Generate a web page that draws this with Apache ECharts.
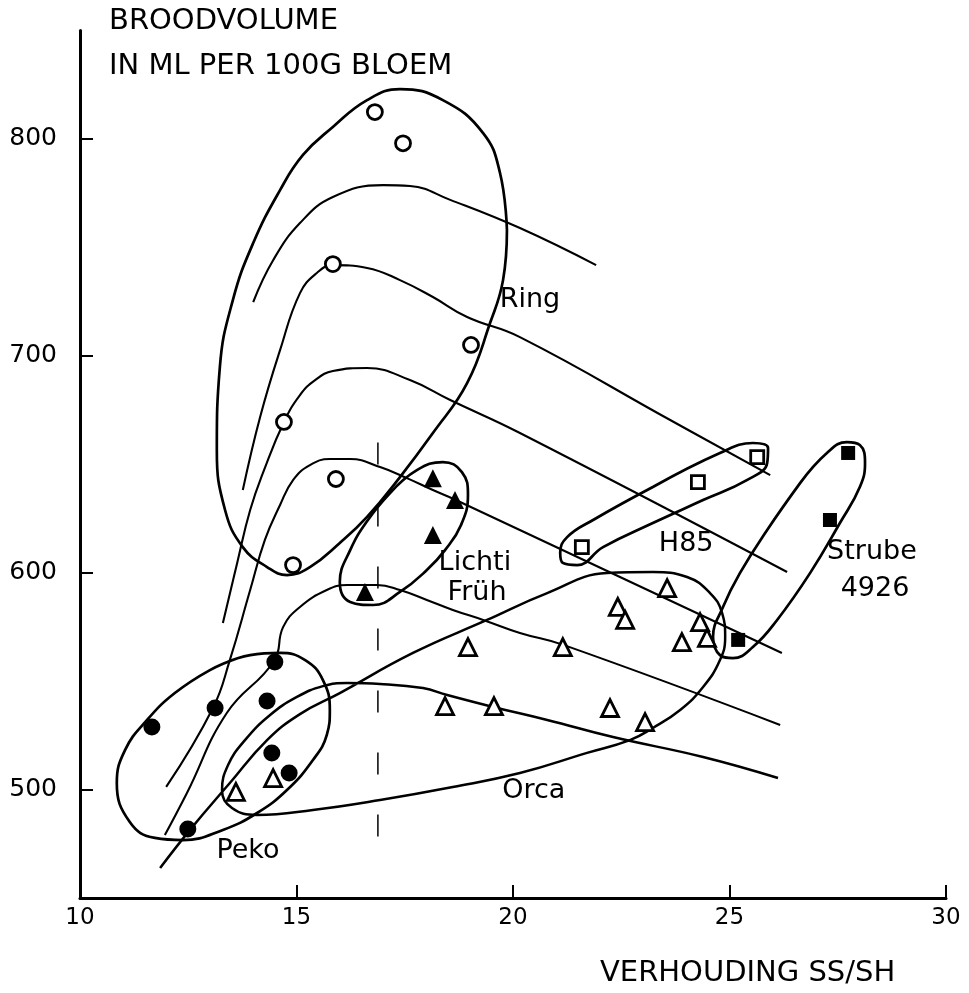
<!DOCTYPE html>
<html>
<head>
<meta charset="utf-8">
<script src="https://cdn.jsdelivr.net/npm/echarts@6/dist/echarts.min.js"></script>
<style>
html,body{margin:0;padding:0;background:#fff;}
#chart{width:969px;height:993px;}
</style>
</head>
<body>
<div id="chart"></div>
<script>
// ---- tick labels ----
const xTicks = [10, 15, 20, 25, 30];
const yTicks = [500, 600, 700, 800];

// ---- data points (x = SS/SH ratio, y = bread volume ml/100 g flour) ----
const ringPts   = [[16.81,812.4],[17.46,798],[15.84,742.3],[19.03,705],[14.71,669.5],[15.91,643.2],[14.92,603.5]];
const pekoPts   = [[11.66,528.8],[13.12,537.6],[14.50,558.8],[14.32,540.8],[14.43,516.9],[14.83,507.6],[12.49,481.8]];
const lichtiPts = [[18.15,643.6],[18.66,633.5],[18.15,617.4],[16.58,591.1]];
const h85Pts    = [[21.59,611.8],[24.27,641.8],[25.64,653.3]];
const strubePts = [[27.74,655.2],[27.32,624.3],[25.20,569.0]];
const orcaPts   = [[13.60,498.9],[14.46,505.3],[23.56,592.9],[22.42,584.2],[22.59,578.2],[24.32,577.2],
                   [23.90,568.0],[24.48,569.9],[18.96,565.7],[21.15,565.7],[18.43,538.5],[19.56,538.5],
                   [22.24,537.6],[23.05,531.1]];

// ---- trend curves ----
const curve1 = [[14.00,724.8],[14.46,744.1],[15.08,761.2],[15.84,773.2],[17.00,778.7],[17.62,778.3],[18.55,771.9],[20.16,758.9],[21.92,741.8]];
const curve2 = [[13.76,638.1],[14.16,671.8],[14.62,702.6],[15.08,728.9],[15.47,738.2],[15.84,741.8],[16.63,740.5],[17.39,734.9],[18.15,727.1],[18.94,717.9],[20.16,708.6],[23.63,670.4],[25.94,645.0]];
const curve3 = [[13.30,576.8],[13.63,604.5],[13.93,628.9],[14.25,647.3],[14.71,669.5],[15.08,681.9],[15.43,688.8],[15.84,693.0],[16.63,694.4],[17.62,688.8],[18.55,679.6],[20.16,664.4],[26.33,600.3]];
const curve4 = [[11.99,501.2],[13.07,537.6],[13.46,559.7],[13.93,592.0],[14.27,615.1],[14.62,631.2],[14.92,642.7],[15.31,649.6],[15.77,652.4],[16.24,652.4],[16.93,648.7],[17.55,643.6],[18.15,638.1],[18.68,633.5],[26.21,563.0]];
const curve5 = [[11.96,479.0],[12.47,498.4],[13.39,535.3],[14.48,559.3],[14.69,574.9],[15.08,584.2],[15.70,592.0],[16.17,594.3],[16.86,594.3],[17.39,592.0],[18.01,587.4],[18.61,582.8],[19.31,578.2],[20.16,572.2],[21.18,566.6],[26.17,529.8]];
// Orca outline, continuing into the lowest trend curve
const orcaLine = [[11.85,463.8],[12.54,481.4],[13.46,503.0],[14.32,522.8],[15.08,534.8],[16.00,544.5],[17.69,563.0],[19.40,578.2],[20.79,590.6],[22.17,599.8],[23.23,600.3],[24.02,598.0],[24.55,590.6],[24.83,581.4],[24.90,570.3],[24.78,559.7],[24.39,547.3],[23.86,536.7],[23.23,528.4],[22.70,522.8],[21.71,516.9],[20.16,507.6],[18.61,501.2],[16.93,495.2],[15.38,490.6],[14.09,488.3],[13.51,491.5],[13.28,499.8],[13.42,511.3],[13.81,522.8],[14.39,534.4],[15.01,542.7],[15.61,547.7],[16.17,549.1],[16.93,548.7],[17.92,546.8],[18.48,543.6],[19.54,538.1],[20.79,532.1],[22.31,524.2],[24.39,515.0],[26.12,505.3]];

// ---- group outlines ----
const ringLoop = [[19.86,758.0],[19.77,734.9],[19.47,715.1],[18.94,687.4],[18.15,664.4],[17.39,644.1],[16.63,625.7],[16.00,613.7],[15.31,602.6],[14.78,598.9],[14.32,602.6],[13.76,611.8],[13.35,628.9],[13.16,656.5],[13.23,694.8],[13.53,725.7],[14.00,752.0],[14.62,776.4],[15.15,792.6],[15.84,805.5],[16.63,817.9],[17.39,823.0],[18.38,817.9],[19.31,802.7],[19.70,784.3],[19.86,758.0]];
const pekoLoop = [[13.00,555.1],[13.93,562.0],[14.62,563.0],[15.20,559.7],[15.61,550.5],[15.77,536.7],[15.70,525.2],[15.38,513.6],[14.78,499.8],[14.09,489.2],[13.30,481.4],[12.38,476.7],[11.73,477.7],[11.15,485.0],[10.85,503.0],[11.04,518.2],[11.55,532.1],[12.19,544.5],[13.00,555.1]];
const lichtiLoop = [[17.16,636.7],[17.78,647.3],[18.38,651.0],[18.82,646.4],[18.96,635.8],[18.80,622.0],[18.43,610.4],[18.01,601.2],[17.39,591.1],[16.77,585.1],[16.24,586.5],[16.00,595.7],[16.24,610.4],[16.65,624.3],[17.16,636.7]];
const h85Loop = [[23.23,639.5],[24.78,655.2],[25.54,659.8],[25.89,657.5],[25.87,650.6],[25.40,642.7],[24.39,633.5],[23.23,622.9],[22.08,611.8],[21.48,603.5],[21.15,604.5],[21.09,609.1],[21.25,616.4],[21.85,624.3],[23.23,639.5]];
const strubeLoop = [[26.63,641.3],[27.25,655.2],[27.71,660.2],[28.01,658.9],[28.13,650.6],[28.01,639.5],[27.55,622.9],[26.86,599.8],[26.10,578.2],[25.54,565.7],[25.08,560.6],[24.78,562.0],[24.62,570.3],[24.85,584.2],[25.24,599.8],[25.87,619.7],[26.63,641.3]];

// dashed reference line
const dashLine = [[16.88,660],[16.88,473]];

// group labels
const groupNames = ['Ring','Lichti','Früh','H85','Strube','4926','Orca','Peko'];
const groupLabelAt = [[20.39,725.7],[19.12,604.4],[19.17,590.6],[24.00,613.2],[28.29,609.5],[28.36,592.5],[20.48,499.3],[13.88,471.7]];

// ---------------------------------------------------------------
const FONT = 'DejaVu Sans';
function curve(data, w, smooth) {
  return { type: 'line', data: data, symbol: 'none', smooth: smooth === undefined ? 0.45 : smooth,
    lineStyle: { color: '#000', width: w || 2.1, opacity: 1 }, silent: true, z: 2, animation: false };
}
function marks(data, symbol, size, filled) {
  return { type: 'scatter', data: data, symbol: symbol, symbolSize: size, z: 5, animation: false, silent: true,
    itemStyle: { color: filled ? '#000' : '#fff', borderColor: '#000', borderWidth: filled ? 0 : 2.8, opacity: 1 } };
}

const chart = echarts.init(document.getElementById('chart'), null, { renderer: 'canvas' });
chart.setOption({
  backgroundColor: '#fff',
  animation: false,
  grid: { left: 80, right: 23, top: 30.5, bottom: 95 },
  xAxis: {
    type: 'value', min: 10, max: 30, interval: 5,
    axisLine: { lineStyle: { color: '#000', width: 3 } },
    axisTick: { inside: true, length: 13, lineStyle: { color: '#000', width: 2 }, customValues: xTicks },
    axisLabel: { color: '#000', fontSize: 23, fontFamily: FONT, margin: 9, customValues: xTicks },
    splitLine: { show: false }
  },
  yAxis: {
    type: 'value', min: 450, max: 850,
    axisLine: { show: true, lineStyle: { color: '#000', width: 3 } },
    axisTick: { show: true, inside: true, length: 13, lineStyle: { color: '#000', width: 2 }, customValues: yTicks },
    axisLabel: { color: '#000', fontSize: 25, fontFamily: FONT, margin: 23, customValues: yTicks },
    splitLine: { show: false }
  },
  graphic: [
    { type: 'text', x: 109, y: 21, style: { text: 'BROODVOLUME', font: '29px "DejaVu Sans"', fill: '#000', verticalAlign: 'middle' } },
    { type: 'text', x: 109, y: 66, style: { text: 'IN ML PER 100G BLOEM', font: '29px "DejaVu Sans"', fill: '#000', verticalAlign: 'middle' } },
    { type: 'text', x: 600, y: 973, style: { text: 'VERHOUDING SS/SH', font: '29px "DejaVu Sans"', fill: '#000', verticalAlign: 'middle' } }
  ],
  series: [
    curve(curve1), curve(curve2), curve(curve3), curve(curve4), curve(curve5),
    curve(orcaLine, 2.5),
    curve(ringLoop, 2.7), curve(pekoLoop, 2.7), curve(lichtiLoop, 2.7), curve(h85Loop, 2.7), curve(strubeLoop, 2.7),
    { type: 'line', data: dashLine, symbol: 'none', silent: true, z: 1, animation: false,
      lineStyle: { color: '#000', width: 1.5, type: [22, 40] } },
    marks(ringPts, 'circle', 15, false),
    marks(pekoPts, 'circle', 17, true),
    marks(lichtiPts, 'triangle', 18, true),
    marks(orcaPts, 'triangle', 17, false),
    marks(h85Pts, 'rect', 13, false),
    marks(strubePts, 'rect', 14, true),
    { type: 'scatter', symbolSize: 0, z: 6, animation: false, silent: true,
      itemStyle: { opacity: 1 },
      data: groupLabelAt.map(function (p, i) { return { value: p, name: groupNames[i] }; }),
      label: { show: true, position: 'inside', formatter: '{b}', color: '#000', opacity: 1, fontSize: 27, fontFamily: FONT } }
  ]
});
</script>
</body>
</html>
